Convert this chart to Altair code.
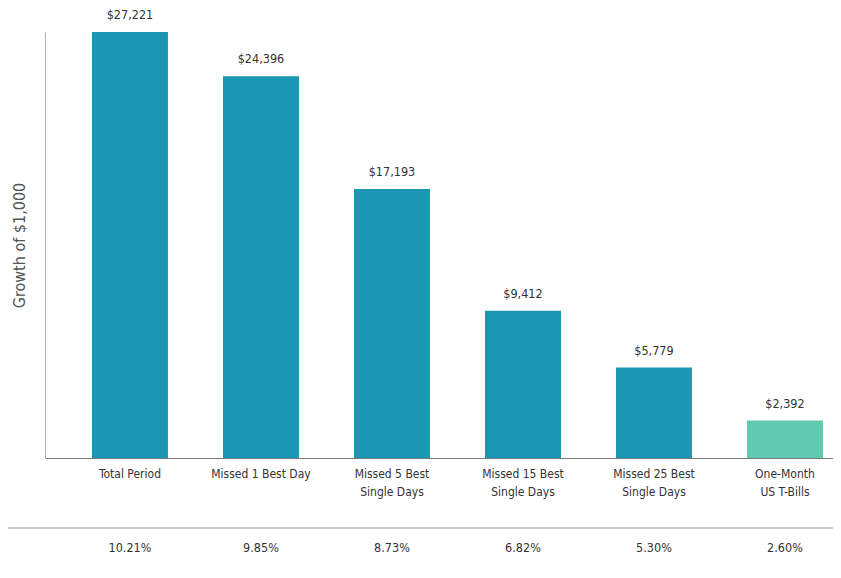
import altair as alt
import pandas as pd

categories = [
    "Total Period",
    "Missed 1 Best Day",
    "Missed 5 Best|Single Days",
    "Missed 15 Best|Single Days",
    "Missed 25 Best|Single Days",
    "One-Month|US T-Bills",
]
values = [27221, 24396, 17193, 9412, 5779, 2392]
returns = ["10.21%", "9.85%", "8.73%", "6.82%", "5.30%", "2.60%"]
groups = ["Stocks", "Stocks", "Stocks", "Stocks", "Stocks", "T-Bills"]

df = pd.DataFrame({"category": categories, "value": values, "ret": returns, "group": groups})

FONT = "Liberation Sans Narrow, DejaVu Sans Condensed, sans-serif"
W, H = 788, 426

x_enc = alt.X(
    "category:N",
    sort=categories,
    scale=alt.Scale(paddingInner=0.42, paddingOuter=0.2176, align=0.824),
    axis=alt.Axis(
        title=None,
        labelAngle=0,
        labelExpr="split(datum.label, '|')",
        labelFont=FONT,
        labelFontSize=12,
        labelColor="#333333",
        labelPadding=10,
        labelLineHeight=18,
        ticks=False,
        domainColor="#777777",
        domainWidth=1.2,
        labelBaseline="top",
    ),
)
y_enc = alt.Y(
    "value:Q",
    scale=alt.Scale(domain=[0, 27221], nice=False),
    axis=alt.Axis(
        title="Growth of $1,000",
        titleFont=FONT,
        titleFontSize=16,
        titleFontWeight="normal",
        titleColor="#555555",
        titlePadding=18,
        labels=False,
        ticks=False,
        grid=False,
        domainColor="#b0b0b0",
        domainWidth=1,
    ),
)

base = alt.Chart(df)

bars = base.mark_bar().encode(
    x=x_enc,
    y=y_enc,
    color=alt.Color(
        "group:N",
        scale=alt.Scale(domain=["Stocks", "T-Bills"], range=["#1b97b2", "#62cab1"]),
        legend=None,
    ),
)

labels = base.mark_text(
    baseline="bottom", dy=-10, font=FONT, fontSize=12.5, color="#333333"
).encode(x=x_enc, y=y_enc, text=alt.Text("value:Q", format="$,.0f"))

rets = base.mark_text(
    baseline="middle", font=FONT, fontSize=12.5, color="#333333"
).encode(x=x_enc, y=alt.value(516), text="ret:N")

rule_df = pd.DataFrame({"k": [0]})
sep = alt.Chart(rule_df).mark_rule(color="#999999", strokeWidth=1).encode(
    x=alt.value(-37), x2=alt.value(W + 8), y=alt.value(496)
)

chart = (
    alt.layer(bars, labels, rets, sep)
    .properties(
        width=W,
        height=H,
        background="white",
        autosize=alt.AutoSizeParams(type="none"),
        padding={"left": 37, "top": 24, "right": 0, "bottom": 110},
    )
    .configure_view(strokeWidth=0, stroke="transparent")
)

chart.save("out.html", embed_options={"renderer": "svg", "actions": False})
